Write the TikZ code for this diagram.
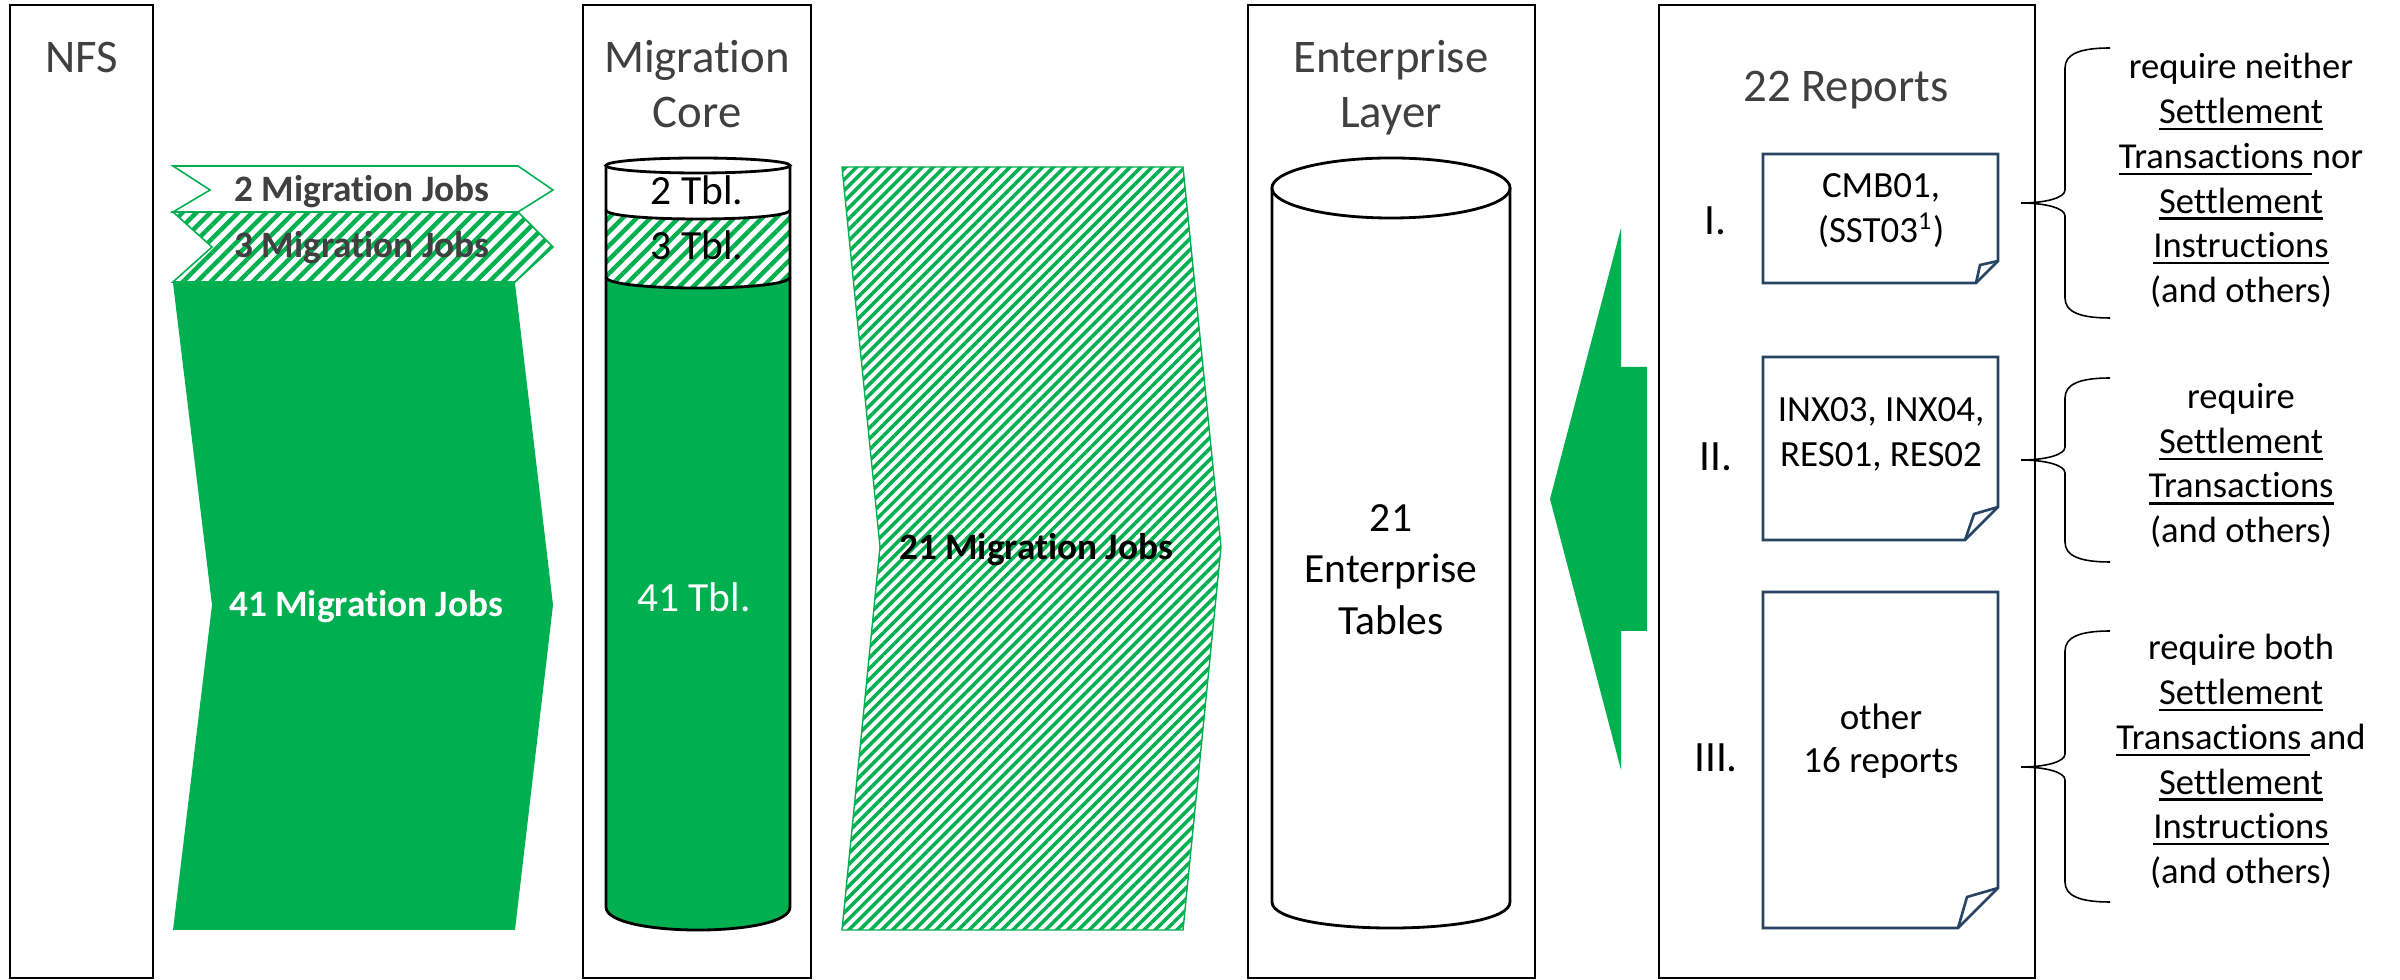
\documentclass[tikz,border=0pt]{standalone}
\usepackage{fontspec}
\setmainfont{Carlito}[Ligatures={NoCommon}]
\usetikzlibrary{patterns.meta}
\definecolor{pgreen}{HTML}{00B050}
\definecolor{tgray}{HTML}{404040}
\definecolor{docblue}{RGB}{40,68,100}
\newcommand\myul[1]{\setbox0\hbox{#1}\rlap{\rule[-1.9pt]{\wd0}{0.65pt}}\box0}
\newcommand\mybracepath[3]{%
  \draw[brace] (2110,#1) .. controls (2080,#1) and (2065,{#1+6}) .. (2065,{#1+20})
    -- (2065,{#3-13}) .. controls (2065,{#3-5}) and (2045,#3) .. (2021,#3)
    .. controls (2045,#3) and (2065,{#3+5}) .. (2065,{#3+13})
    -- (2065,{#2-20}) .. controls (2065,{#2-6}) and (2080,#2) .. (2110,#2);}
\begin{document}
\begin{tikzpicture}[x=0.01cm,y=-0.01cm,
  frame/.style={draw=black, line width=0.55pt},
  title/.style={font=\fontsize{13.3}{16}\selectfont, text=tgray, anchor=base, inner sep=0pt},
  jobs/.style={font=\fontsize{10.6}{13}\selectfont\bfseries, anchor=base, inner sep=0pt},
  tbl/.style={font=\fontsize{11.8}{14}\selectfont, anchor=base, inner sep=0pt},
  rep/.style={font=\fontsize{10.5}{13}\selectfont, anchor=base, inner sep=0pt},
  numl/.style={font=\fontsize{12.3}{15}\selectfont, anchor=base, inner sep=0pt},
  note/.style={font=\fontsize{10.4}{13}\selectfont, anchor=base, inner sep=0pt},
  hatchA/.style={pattern={Lines[angle=45,distance=2.8pt,line width=1.25pt]}, pattern color=pgreen},
  hatchB/.style={pattern={Lines[angle=45,distance=2.2pt,line width=1.0pt]}, pattern color=pgreen},
  doc/.style={draw=docblue, line width=0.75pt, line join=miter},
  brace/.style={draw=black, line width=0.45pt},
  cyl/.style={draw=black, line width=0.8pt},
]
\useasboundingbox (0,0) rectangle (2400,980);
\fill[white] (0,0) rectangle (2400,980);

% frames
\draw[frame] (10,5) rectangle (153,978);
\draw[frame] (583,5) rectangle (811,978);
\draw[frame] (1248,5) rectangle (1535,978);
\draw[frame] (1659,5) rectangle (2035,978);

% titles
\node[title] (tNFS) at (82,73) {NFS};
\node[title] (tMig1) at (697,73) {Migration};
\node[title] (tMig2) at (697,128) {Core};
\node[title] (tEnt1) at (1391,73) {Enterprise};
\node[title] (tEnt2) at (1391,128) {Layer};
\node[title] (tRep) at (1846,102) {22 Reports};

% migration jobs arrows
\fill[pgreen] (173,283) -- (515,283) -- (553,605) -- (515,930) -- (173,930) -- (212,605) -- cycle;
\path[draw=pgreen, line width=0.45pt, fill=white] (173,166) -- (518,166) -- (553,190) -- (518,212) -- (173,212) -- (210,190) -- cycle;
\path[draw=pgreen, line width=0.45pt, hatchA] (173,212) -- (518,212) -- (553,247) -- (515,282) -- (173,282) -- (212,247) -- cycle;
\node[jobs, text=tgray] (j2) at (362,202) {2 Migration Jobs};
\node[jobs, text=tgray] (j3) at (362,258) {3 Migration Jobs};
\node[jobs, text=white] (j41) at (366,617) {41 Migration Jobs};

\path[draw=pgreen, line width=0.4pt, hatchB] (842,167) -- (1183,167) -- (1221,547) -- (1183,930) -- (842,930) -- (880,547) -- cycle;
\node[jobs, text=black] (j21) at (1036,560) {21 Migration Jobs};

% migration core cylinder
\fill[pgreen] (606,277) .. controls (606,291.7) and (790,291.7) .. (790,277) -- (790,907) .. controls (790,937.7) and (606,937.7) .. (606,907) -- cycle;
\path[hatchA] (606,210) .. controls (606,222) and (790,222) .. (790,210) -- (790,277) .. controls (790,291.7) and (606,291.7) .. (606,277) -- cycle;
\draw[cyl] (698,165.5) ellipse [x radius=0.92cm, y radius=0.075cm];
\draw[cyl] (606,165.5) -- (606,907) .. controls (606,937.7) and (790,937.7) .. (790,907) -- (790,165.5);
\draw[cyl] (606,210) .. controls (606,222) and (790,222) .. (790,210);
\draw[cyl] (606,277) .. controls (606,291.7) and (790,291.7) .. (790,277);
\node[tbl] (t2) at (697,205) {2 Tbl.};
\node[tbl] (t3) at (697,260) {3 Tbl.};
\node[tbl, text=white] (t41) at (694,612) {41 Tbl.};

% enterprise cylinder
\draw[cyl] (1391,188) ellipse [x radius=1.19cm, y radius=0.30cm];
\draw[cyl] (1272,188) -- (1272,902) .. controls (1272,936.7) and (1510,936.7) .. (1510,902) -- (1510,188);
\node[tbl] (e1) at (1391,532) {21};
\node[tbl] (e2) at (1391,583) {Enterprise};
\node[tbl] (e3) at (1391,635) {Tables};

% big left arrow
\fill[pgreen] (1550,499) -- (1621,228) -- (1621,367) -- (1647,367) -- (1647,631) -- (1621,631) -- (1621,770) -- cycle;

% documents
\draw[doc] (1763,154) -- (1998,154) -- (1998,261) -- (1976,283) -- (1763,283) -- cycle;
\draw[doc] (1976,283) -- (1980,265) -- (1998,261);
\draw[doc] (1763,357) -- (1998,357) -- (1998,507) -- (1965,540) -- (1763,540) -- cycle;
\draw[doc] (1965,540) -- (1974,514) -- (1998,507);
\draw[doc] (1763,592) -- (1998,592) -- (1998,888) -- (1958,928) -- (1763,928) -- cycle;
\draw[doc] (1958,928) -- (1967,897) -- (1998,888);

\node[rep] (d1a) at (1881,198) {CMB01,};
\node[rep] (d1b) at (1881,243) {(SST03\textsuperscript{1})};
\node[rep] (d2a) at (1881,422) {INX03, INX04,};
\node[rep] (d2b) at (1881,467) {RES01, RES02};
\node[rep] (d3a) at (1881,730) {other};
\node[rep] (d3b) at (1881,773) {16 reports};
\node[numl] (n1) at (1715,235) {I.};
\node[numl] (n2) at (1716,471) {II.};
\node[numl] (n3) at (1716,772) {III.};

% braces
\mybracepath{48}{318}{203}
\mybracepath{378}{562}{460}
\mybracepath{631}{902}{767}

\node[note] (b1a) at (2241,79) {require neither};
\node[note] (b1b) at (2241,123.7) {\myul{Settlement}};
\node[note] (b1c) at (2241,168.4) {\myul{Transactions\ }nor};
\node[note] (b1d) at (2241,213.1) {\myul{Settlement}};
\node[note] (b1e) at (2241,257.8) {\myul{Instructions}};
\node[note] (b1f) at (2241,302.5) {(and others)};

\node[note] (b2a) at (2241,408.5) {require};
\node[note] (b2b) at (2241,453.2) {\myul{Settlement}};
\node[note] (b2c) at (2241,497.9) {\myul{Transactions}};
\node[note] (b2d) at (2241,542.6) {(and others)};

\node[note] (b3a) at (2241,660) {require both};
\node[note] (b3b) at (2241,704.7) {\myul{Settlement}};
\node[note] (b3c) at (2241,749.4) {\myul{Transactions\ }and};
\node[note] (b3d) at (2241,794.1) {\myul{Settlement}};
\node[note] (b3e) at (2241,838.8) {\myul{Instructions}};
\node[note] (b3f) at (2241,883.5) {(and others)};
\end{tikzpicture}
\end{document}
